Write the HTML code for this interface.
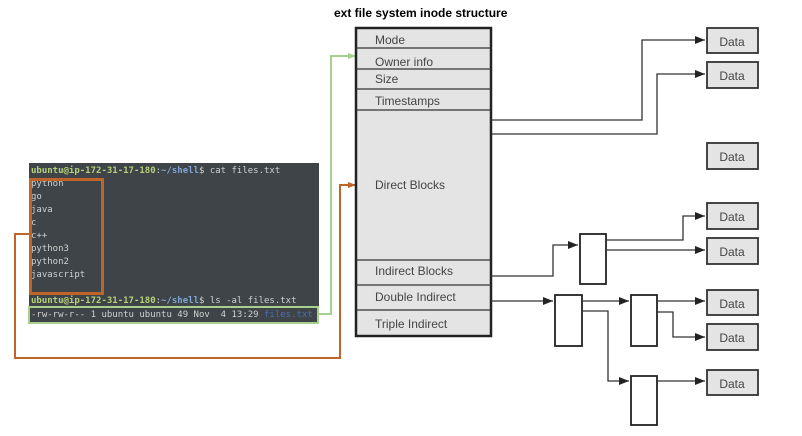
<!DOCTYPE html>
<html><head><style>
body{margin:0;width:802px;height:436px;background:#fff;position:relative;overflow:hidden;font-family:"Liberation Sans",sans-serif}
.term{position:absolute;left:29px;top:163px;width:290px;height:160px;background:#3e4448}
.t{position:absolute;font-family:"DejaVu Sans Mono","Liberation Mono",monospace;font-size:9px;color:#d0d0d0;white-space:pre;line-height:12px}
</style></head><body>
<div class="term"></div>
<div class="t" style="left:31px;top:165px"><span style="color:#b5d17a;font-weight:bold">ubuntu@ip-172-31-17-180</span>:<span style="color:#7fa5d8;font-weight:bold">~/shell</span>$ cat files.txt</div>
<div class="t" style="left:31px;top:178px;line-height:13px">python
go
java
c
c++
python3
python2
javascript</div>
<div class="t" style="left:31px;top:295px"><span style="color:#b5d17a;font-weight:bold">ubuntu@ip-172-31-17-180</span>:<span style="color:#7fa5d8;font-weight:bold">~/shell</span>$ ls -al files.txt</div>
<div class="t" style="left:31px;top:309px">-rw-rw-r-- 1 ubuntu ubuntu 49 Nov  4 13:29 <span style="color:#4a6fb0">files.txt</span></div>
<div style="position:absolute;left:29px;top:178px;width:69px;height:111px;border:3px solid #c0652a"></div>
<div style="position:absolute;left:28px;top:306px;width:287px;height:14px;border:2.5px solid #a8d08d"></div>
<div style="position:absolute;left:334px;top:6px;font-size:12px;font-weight:bold">ext file system inode structure</div>
<svg width="802" height="436" style="position:absolute;left:0;top:0">
<defs><marker id="a" markerWidth="10" markerHeight="8" refX="10" refY="4" orient="auto" markerUnits="userSpaceOnUse"><path d="M0,0L10,4L0,8z" fill="#222"/></marker>
<marker id="g" markerWidth="8" markerHeight="6" refX="8" refY="3" orient="auto" markerUnits="userSpaceOnUse"><path d="M0,0L8,3L0,6z" fill="#a8d08d"/></marker>
<marker id="o" markerWidth="8" markerHeight="6" refX="8" refY="3" orient="auto" markerUnits="userSpaceOnUse"><path d="M0,0L8,3L0,6z" fill="#c0652a"/></marker></defs>
<polyline points="319,314 331,314 331,56 356,56" fill="none" stroke="#a8d08d" stroke-width="2" marker-end="url(#g)"/>
<polyline points="29,234 15,234 15,358 340,358 340,185 356,185" fill="none" stroke="#c0652a" stroke-width="2" marker-end="url(#o)"/>
<rect x="356" y="28" width="135" height="308" fill="#e4e4e4" stroke="#222" stroke-width="2.5"/>
<g stroke="#333" stroke-width="1.2">
<line x1="356" y1="48" x2="491" y2="48"/><line x1="356" y1="69" x2="491" y2="69"/><line x1="356" y1="89" x2="491" y2="89"/><line x1="356" y1="110" x2="491" y2="110"/><line x1="356" y1="260" x2="491" y2="260"/><line x1="356" y1="285" x2="491" y2="285"/><line x1="356" y1="310" x2="491" y2="310"/></g>
<g font-size="12" fill="#444">
<text x="375" y="44">Mode</text><text x="375" y="66">Owner info</text><text x="375" y="83">Size</text><text x="375" y="105">Timestamps</text><text x="375" y="189">Direct Blocks</text><text x="375" y="275">Indirect Blocks</text><text x="375" y="301">Double Indirect</text><text x="375" y="328">Triple Indirect</text></g>
<g fill="#e4e4e4" stroke="#333" stroke-width="1.8">
<rect x="707" y="28" width="51" height="25"/><rect x="707" y="62" width="51" height="26"/><rect x="707" y="143" width="51" height="26"/><rect x="707" y="203" width="51" height="26"/><rect x="707" y="238" width="51" height="26"/><rect x="707" y="290" width="51" height="25"/><rect x="707" y="324" width="51" height="26"/><rect x="707" y="370" width="51" height="25"/></g>
<g font-size="12" fill="#444" text-anchor="middle">
<text x="732" y="46">Data</text><text x="732" y="80">Data</text><text x="732" y="161">Data</text><text x="732" y="221">Data</text><text x="732" y="256">Data</text><text x="732" y="308">Data</text><text x="732" y="342">Data</text><text x="732" y="388">Data</text></g>
<g fill="#fff" stroke="#222" stroke-width="1.8">
<rect x="580" y="234" width="26" height="50"/><rect x="555" y="295" width="27" height="51"/><rect x="631" y="295" width="26" height="51"/><rect x="631" y="376" width="26" height="49"/></g>
<g fill="none" stroke="#333" stroke-width="1.3" marker-end="url(#a)">
<polyline points="491,120 642,120 642,40 705,40"/>
<polyline points="491,134 657,134 657,74 705,74"/>
<polyline points="491,276 553,276 553,245 578,245"/>
<polyline points="606,240 683,240 683,216 705,216"/>
<polyline points="606,250 705,250"/>
<polyline points="491,301 553,301"/>
<polyline points="582,301 629,301"/>
<polyline points="582,311 608,311 608,381 629,381"/>
<polyline points="657,301 705,301"/>
<polyline points="657,312 673,312 673,337 705,337"/>
<polyline points="657,381 705,381"/>
</g>
</svg>
</body></html>
